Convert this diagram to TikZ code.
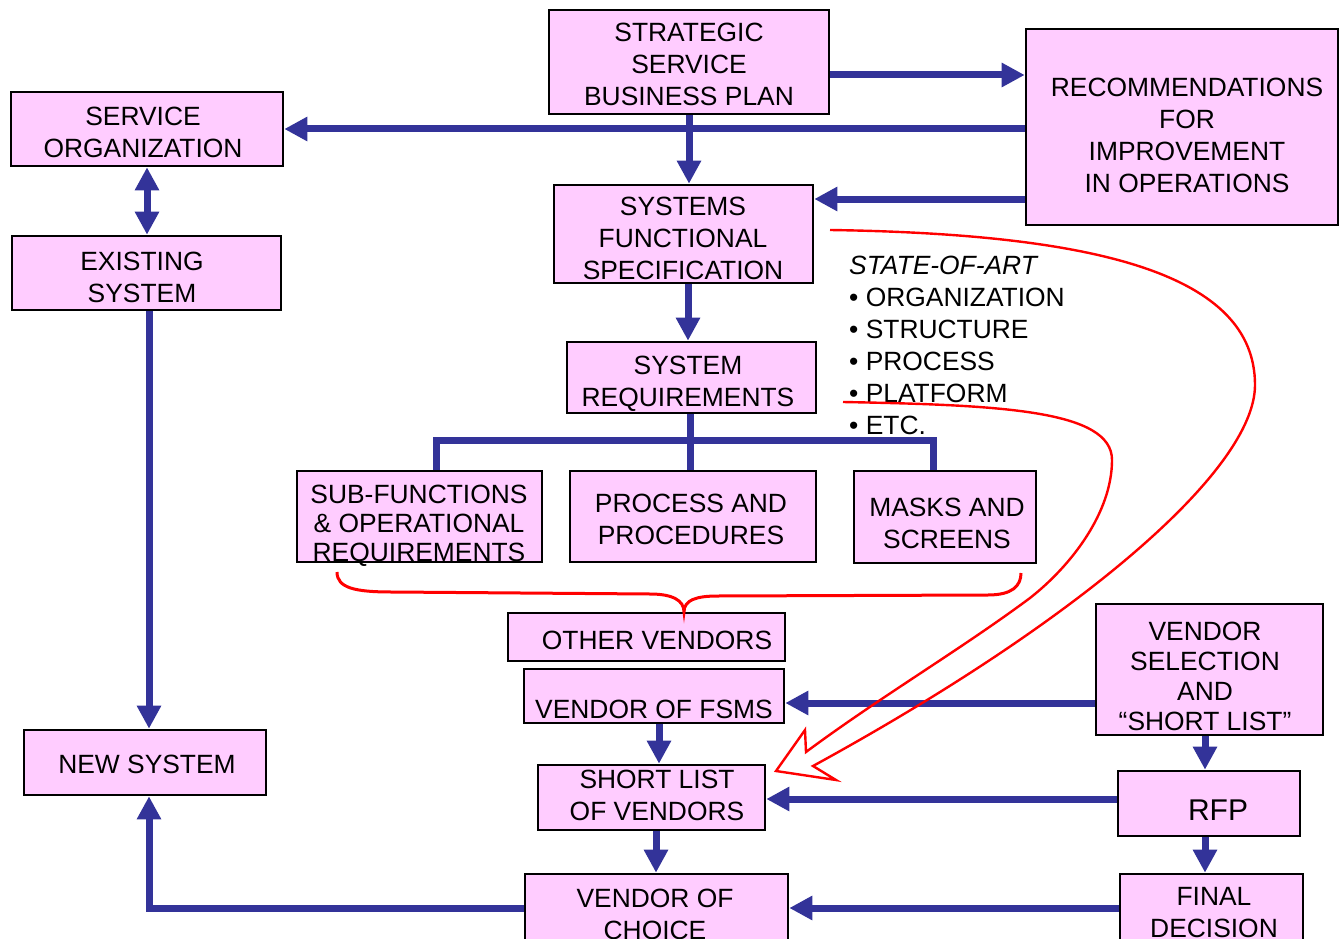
\documentclass[tikz,border=0pt]{standalone}
\usepackage{fontspec}
\setmainfont{Liberation Sans}
\usetikzlibrary{arrows.meta}
\definecolor{boxfill}{HTML}{FFCCFF}
\definecolor{flowblue}{HTML}{333399}
\begin{document}
\begin{tikzpicture}[x=1pt,y=-1pt,
  box/.style={draw=black, fill=boxfill, line width=2.6pt, inner sep=0pt},
  txt/.style={inner sep=0pt, align=center, font=\fontsize{26.4}{32}\selectfont},
  flow/.style={draw=flowblue, line width=7pt},
  arr/.style={flow, -{Triangle[length=23pt,width=23pt]}},
  darr/.style={flow, {Triangle[length=23pt,width=23pt]}-{Triangle[length=23pt,width=23pt]}},
  redline/.style={draw=red, line width=2.4pt, line join=miter},
  brace/.style={draw=red, line width=3pt}]
\useasboundingbox (0,0) rectangle (1339,939);
\clip (0,0) rectangle (1339,939);

% boxes
\node[box, minimum width=280pt, minimum height=104pt] (ssbp) at (689,62) {};
\node[txt] (ssbp-t) at (689,64) {STRATEGIC\\SERVICE\\BUSINESS PLAN};

\node[box, minimum width=312pt, minimum height=196pt] (rec) at (1182,127) {};
\node[txt] (rec-t) at (1187,135) {RECOMMENDATIONS\\FOR\\IMPROVEMENT\\IN OPERATIONS};

\node[box, minimum width=272pt, minimum height=74pt] (sorg) at (147,129) {};
\node[txt] (sorg-t) at (143,132) {SERVICE\\ORGANIZATION};

\node[box, minimum width=269pt, minimum height=74pt] (exist) at (146.5,273) {};
\node[txt] (exist-t) at (142,277) {EXISTING\\SYSTEM};

\node[box, minimum width=259pt, minimum height=98pt] (sfs) at (683.5,234) {};
\node[txt] (sfs-t) at (683,238) {SYSTEMS\\FUNCTIONAL\\SPECIFICATION};

\node[box, minimum width=249pt, minimum height=71pt] (sreq) at (691.5,377.5) {};
\node[txt] (sreq-t) at (688,384) {SYSTEM\\REQUIREMENTS};

\node[box, minimum width=245pt, minimum height=91pt] (subf) at (419.5,516.5) {};
\node[txt, font=\fontsize{26.4}{29}\selectfont] (subf-t) at (419,526) {SUB-FUNCTIONS\\\& OPERATIONAL\\REQUIREMENTS};

\node[box, minimum width=246pt, minimum height=91pt] (proc) at (693,516.5) {};
\node[txt] (proc-t) at (691,519) {PROCESS AND\\PROCEDURES};

\node[box, minimum width=182pt, minimum height=92pt] (mask) at (945,517) {};
\node[txt] (mask-t) at (947,523) {MASKS AND\\SCREENS};

\node[box, minimum width=277pt, minimum height=48pt] (other) at (646.5,637) {};
\node[txt] (other-t) at (657,640) {OTHER VENDORS};

\node[box, minimum width=260pt, minimum height=54pt] (fsms) at (654,696) {};
\node[txt] (fsms-t) at (654,709) {VENDOR OF FSMS};

\node[box, minimum width=227pt, minimum height=131pt] (vsel) at (1209.5,669.5) {};
\node[txt, font=\fontsize{26.4}{30}\selectfont] (vsel-t) at (1205,676) {VENDOR\\SELECTION\\AND\\“SHORT LIST”};

\node[box, minimum width=227pt, minimum height=65pt] (slist) at (651.5,797.5) {};
\node[txt] (slist-t) at (657,795) {SHORT LIST\\OF VENDORS};

\node[box, minimum width=182pt, minimum height=65pt] (rfp) at (1209,803.5) {};
\node[txt, font=\fontsize{30}{36}\selectfont] (rfp-t) at (1218,810) {RFP};

\node[box, minimum width=242pt, minimum height=65pt] (newsys) at (145,762.5) {};
\node[txt] (newsys-t) at (147,764) {NEW SYSTEM};

\node[box, minimum width=263pt, minimum height=81pt] (voc) at (656.5,914.5) {};
\node[txt] (voc-t) at (655,914) {VENDOR OF\\CHOICE};

\node[box, minimum width=183pt, minimum height=81pt] (final) at (1211.5,914.5) {};
\node[txt] (final-t) at (1214,913) {FINAL\\DECISION};

% state-of-the-art list
\node[txt, align=left, anchor=west] (soa) at (849,345)
  {\textit{STATE-OF-ART}\\• ORGANIZATION\\• STRUCTURE\\• PROCESS\\• PLATFORM\\• ETC.};

% blue flow connectors
\draw[arr] (ssbp.east |- 0,75) -- (rec.west |- 0,75);
\draw[arr] (rec.west |- 0,129) -- (sorg.east |- 0,129);
\draw[arr] (ssbp.south -| 689,0) -- (sfs.north -| 689,0);
\draw[arr] (rec.west |- 0,199) -- (sfs.east |- 0,199);
\draw[darr] (sorg.south -| 147,0) -- (exist.north -| 147,0);
\draw[arr] (sfs.south -| 688,0) -- (sreq.north -| 688,0);
\draw[flow] (sreq.south -| 690,0) -- (proc.north -| 690,0);
\draw[flow, line join=miter] (subf.north -| 436,0) -- (436,440) -- (933,440) -- (mask.north -| 933,0);
\draw[arr] (exist.south -| 149,0) -- (newsys.north -| 149,0);
\draw[arr] (vsel.west |- 0,703) -- (fsms.east |- 0,703);
\draw[arr] (fsms.south -| 659,0) -- (slist.north -| 659,0);
\draw[arr] (vsel.south -| 1205,0) -- (rfp.north -| 1205,0);
\draw[arr] (rfp.west |- 0,799) -- (slist.east |- 0,799);
\draw[arr] (slist.south -| 656,0) -- (voc.north -| 656,0);
\draw[arr] (rfp.south -| 1205,0) -- (final.north -| 1205,0);
\draw[arr] (final.west |- 0,908) -- (voc.east |- 0,908);
\draw[arr, line join=miter] (voc.west |- 0,908) -| (newsys.south -| 149,0);

% red brace gathering the three requirement boxes
\draw[brace] (337,572) .. controls (337,588) and (355,592) .. (392,592)
  -- (650,594) .. controls (672,594) and (684,600) .. (684,612)
  .. controls (684,600) and (696,596) .. (718,596)
  -- (988,595) .. controls (1012,595) and (1021,586) .. (1021,573);

% red hollow arrow to the short list
\draw[redline] (843,402) .. controls (1000,405) and (1112,410) .. (1112,460)
  .. controls (1112,512) and (1072,565) .. (1030,598)
  .. controls (960,650) and (880,697) .. (806,752)
  -- (805,730) -- (776,771) -- (836,780) -- (813,766)
  .. controls (1080,620) and (1255,470) .. (1255,385)
  .. controls (1255,275) and (1100,234) .. (830,230);
\end{tikzpicture}
\end{document}
